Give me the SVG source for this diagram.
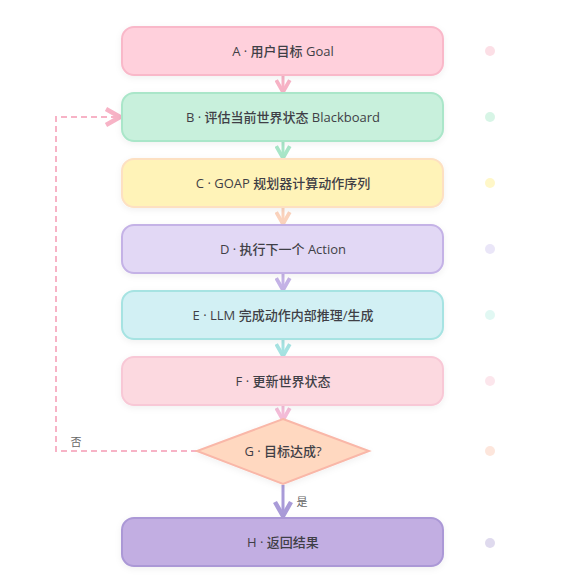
<svg xmlns="http://www.w3.org/2000/svg" width="585" height="585" viewBox="0 0 585 585">
<style>
.t{font-family:"Open Sans","Noto Sans CJK SC",sans-serif;font-size:13px;fill:#3f3f46;text-anchor:middle;dominant-baseline:central;font-weight:500}
.lbl{font-family:"Noto Sans CJK SC","Liberation Sans",sans-serif;font-size:11px;fill:#666;text-anchor:middle;dominant-baseline:central}
.n{stroke-width:2;filter:url(#sh)}
.c{fill:none;stroke-width:3}
.dot{opacity:0.55}
</style>
<defs>
<filter id="sh" x="-10%" y="-30%" width="120%" height="160%">
<feDropShadow dx="0" dy="2" stdDeviation="3" flood-color="#000" flood-opacity="0.06"/>
</filter>
<marker id="ah" viewBox="0 0 20 20" refX="17" refY="10" markerWidth="20" markerHeight="20" markerUnits="userSpaceOnUse" orient="auto">
<path d="M3,2 L17,10 L3,18" fill="none" stroke="context-stroke" stroke-width="4.5" stroke-linejoin="miter"/>
</marker>
<marker id="ahs" viewBox="0 0 20 20" refX="17" refY="10" markerWidth="17" markerHeight="17" markerUnits="userSpaceOnUse" orient="auto">
<path d="M3,2 L17,10 L3,18" fill="none" stroke="context-stroke" stroke-width="4.5" stroke-linejoin="miter"/>
</marker>
</defs>
<rect width="585" height="585" fill="#ffffff"/>
<g id="connectors">
<line class="c" x1="283" y1="76" x2="283" y2="92" stroke="#f7b3c6" marker-end="url(#ahs)"/>
<line class="c" x1="283" y1="142" x2="283" y2="158" stroke="#a8e6c8" marker-end="url(#ahs)"/>
<line class="c" x1="283" y1="208" x2="283" y2="224" stroke="#fbd3bd" marker-end="url(#ahs)"/>
<line class="c" x1="283" y1="274" x2="283" y2="290" stroke="#c4b2e6" marker-end="url(#ahs)"/>
<line class="c" x1="283" y1="340" x2="283" y2="356" stroke="#a6e3e2" marker-end="url(#ahs)"/>
<line class="c" x1="283" y1="406" x2="283" y2="420" stroke="#f4bcd8" marker-end="url(#ahs)"/>
<line class="c" x1="283" y1="485" x2="283" y2="516" stroke="#a99bd8" marker-end="url(#ah)"/>
<path d="M197,451 H56 V117 H120" fill="none" stroke="#f7b3c6" stroke-width="2" stroke-dasharray="6,4" marker-end="url(#ah)"/>
<text class="lbl" x="76" y="441">否</text>
<text class="lbl" x="302" y="501">是</text>
</g>
<g id="A"><rect class="n" x="122" y="27" width="321" height="48" rx="12" fill="#ffd0dc" stroke="#f9b8c9"/><text class="t" x="283" y="51">A · 用户目标 Goal</text></g>
<g id="B"><rect class="n" x="122" y="93" width="321" height="48" rx="12" fill="#c8f0dc" stroke="#aae6c9"/><text class="t" x="283" y="117">B · 评估当前世界状态 Blackboard</text></g>
<g id="C"><rect class="n" x="122" y="159" width="321" height="48" rx="12" fill="#fff3b8" stroke="#fde0c2"/><text class="t" x="283" y="183">C · GOAP 规划器计算动作序列</text></g>
<g id="D"><rect class="n" x="122" y="225" width="321" height="48" rx="12" fill="#e2d8f5" stroke="#c4b2e6"/><text class="t" x="283" y="249">D · 执行下一个 Action</text></g>
<g id="E"><rect class="n" x="122" y="291" width="321" height="48" rx="12" fill="#d2f0f4" stroke="#a6e3e2"/><text class="t" x="283" y="315">E · LLM 完成动作内部推理/生成</text></g>
<g id="F"><rect class="n" x="122" y="357" width="321" height="48" rx="12" fill="#fcd9e0" stroke="#f8c8d6"/><text class="t" x="283" y="381">F · 更新世界状态</text></g>
<g id="G"><polygon class="n" points="283,419 369,451 283,484 197,451" fill="#ffd8c0" stroke="#f9b7a8"/><text class="t" x="283" y="451">G · 目标达成?</text></g>
<g id="H"><rect class="n" x="122" y="518" width="321" height="48" rx="12" fill="#c2aee2" stroke="#ab98d6"/><text class="t" x="283" y="542">H · 返回结果</text></g>
<g id="legend">
<circle class="dot" cx="490" cy="51" r="5" fill="#f9c4d2"/>
<circle class="dot" cx="490" cy="117" r="5" fill="#b6ecd2"/>
<circle class="dot" cx="490" cy="183" r="5" fill="#fff09a"/>
<circle class="dot" cx="490" cy="249" r="5" fill="#d8d2f2"/>
<circle class="dot" cx="490" cy="315" r="5" fill="#c8f2ea"/>
<circle class="dot" cx="490" cy="381" r="5" fill="#f9d2dc"/>
<circle class="dot" cx="490" cy="451" r="5" fill="#fcd2c0"/>
<circle class="dot" cx="490" cy="543" r="5" fill="#c4bce0"/>
</g>
</svg>
